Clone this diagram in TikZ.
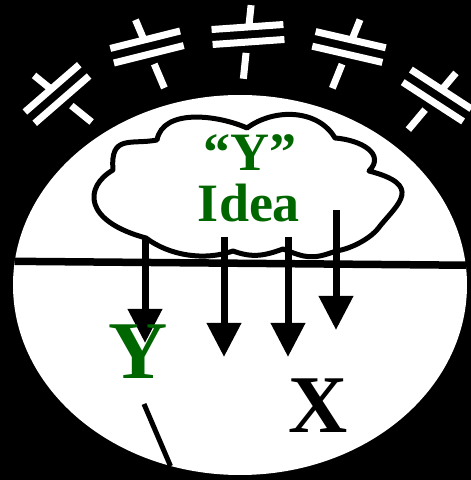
\documentclass[tikz,border=0pt]{standalone}
\usepackage{fontspec}
\setmainfont{Liberation Serif}
\usepackage{tikz}
\usepackage{xcolor}
\usetikzlibrary{shapes.geometric,arrows.meta}

\definecolor{ideagreen}{RGB}{0,102,0}

\tikzset{
  bar/.style={draw=white, line width=7pt},
  drop/.style={line width=7pt, -{Triangle[width=33pt,length=34pt]}},
  cloudline/.style={draw, fill=white, line width=5pt, line join=round},
  bigletter/.style={font=\fontsize{82}{82}\selectfont\bfseries, inner sep=0pt, anchor=base},
  ideatext/.style={font=\fontsize{54}{54}\selectfont\bfseries, text=ideagreen, inner sep=0pt, anchor=base},
}

\begin{document}
\begin{tikzpicture}[x=1pt, y=1pt]

\fill[black] (0,0) rectangle (471,480);
\useasboundingbox (0,0) rectangle (471,480);

% Plates above the field (left to right)
\begin{scope}[shift={(57,386)}, rotate=41]
  \draw[bar] (-36,7.5) -- (36,7.5);
  \draw[bar] (-36,-7.5) -- (36,-7.5);
  \draw[bar] (100:7.5) -- (100:29.5);
  \draw[bar] (-80:18.5) -- (-80:44.5);
\end{scope}

\begin{scope}[shift={(147,433)}, rotate=14]
  \draw[bar] (-36,7.5) -- (36,7.5);
  \draw[bar] (-36,-7.5) -- (36,-7.5);
  \draw[bar] (99:7.5) -- (99:29.5);
  \draw[bar] (-81:18.5) -- (-81:44.5);
\end{scope}

\begin{scope}[shift={(248,445.5)}, rotate=4]
  \draw[bar] (-36,7.5) -- (36,7.5);
  \draw[bar] (-36,-7.5) -- (36,-7.5);
  \draw[bar] (80:7.5) -- (80:29.5);
  \draw[bar] (-100:18.5) -- (-100:44.5);
\end{scope}

\begin{scope}[shift={(349,433)}, rotate=-13]
  \draw[bar] (-36,7.5) -- (36,7.5);
  \draw[bar] (-36,-7.5) -- (36,-7.5);
  \draw[bar] (81:7.5) -- (81:29.5);
  \draw[bar] (-99:18.5) -- (-99:44.5);
\end{scope}

\begin{scope}[shift={(437,384.5)}, rotate=-33]
  \draw[bar] (-36,7.5) -- (36,7.5);
  \draw[bar] (-36,-7.5) -- (36,-7.5);
  \draw[bar] (83:7.5) -- (83:29.5);
  \draw[bar] (-97:18.5) -- (-97:44.5);
\end{scope}

% Field
\node[ellipse, fill=white, minimum width=454pt, minimum height=380pt, inner sep=0pt] (field) at (240,195) {};

% Idea cloud, puff by puff
\draw[cloudline] (146,242)
  .. controls (83,259) and (84,293) .. (113,310)
  .. controls (110,346) and (131,335) .. (157,340)
  .. controls (163,372) and (218,365) .. (247,352)
  .. controls (274,372) and (318,371) .. (335,342)
  .. controls (361,340) and (386,326) .. (369,309)
  .. controls (423,295) and (399,277) .. (380,254)
  .. controls (372,242) and (351,231) .. (336,229)
  .. controls (312,220) and (306,222) .. (283,231)
  .. controls (264,224) and (252,222) .. (233,229)
  .. controls (205,219) and (170,224) .. (146,242) -- cycle;
\node[ideatext] (quoteY) at (250,309) {“Y”};
\node[ideatext] (ideaword) at (249,258) {Idea};

\draw[line width=7.5pt] (field.174.9) -- (field.5.1);

% Arrows out of the cloud
\coordinate (s1) at (145,242); \coordinate (e1) at (145,137);
\coordinate (s2) at (224,243); \coordinate (e2) at (224,123);
\coordinate (s3) at (288,243); \coordinate (e3) at (288,123);
\coordinate (s4) at (336,270); \coordinate (e4) at (336,150);
\draw[drop] (s1) -- (e1);
\draw[drop] (s2) -- (e2);
\draw[drop] (s3) -- (e3);
\draw[drop] (s4) -- (e4);

\node[bigletter, text=ideagreen] (ylabel) at (138,101) {Y};
\node[bigletter] (xlabel) at (318,48) {X};

\coordinate (tail) at (144,76);
\draw[line width=5pt] (tail) -- (field.-111);

\end{tikzpicture}
\end{document}
